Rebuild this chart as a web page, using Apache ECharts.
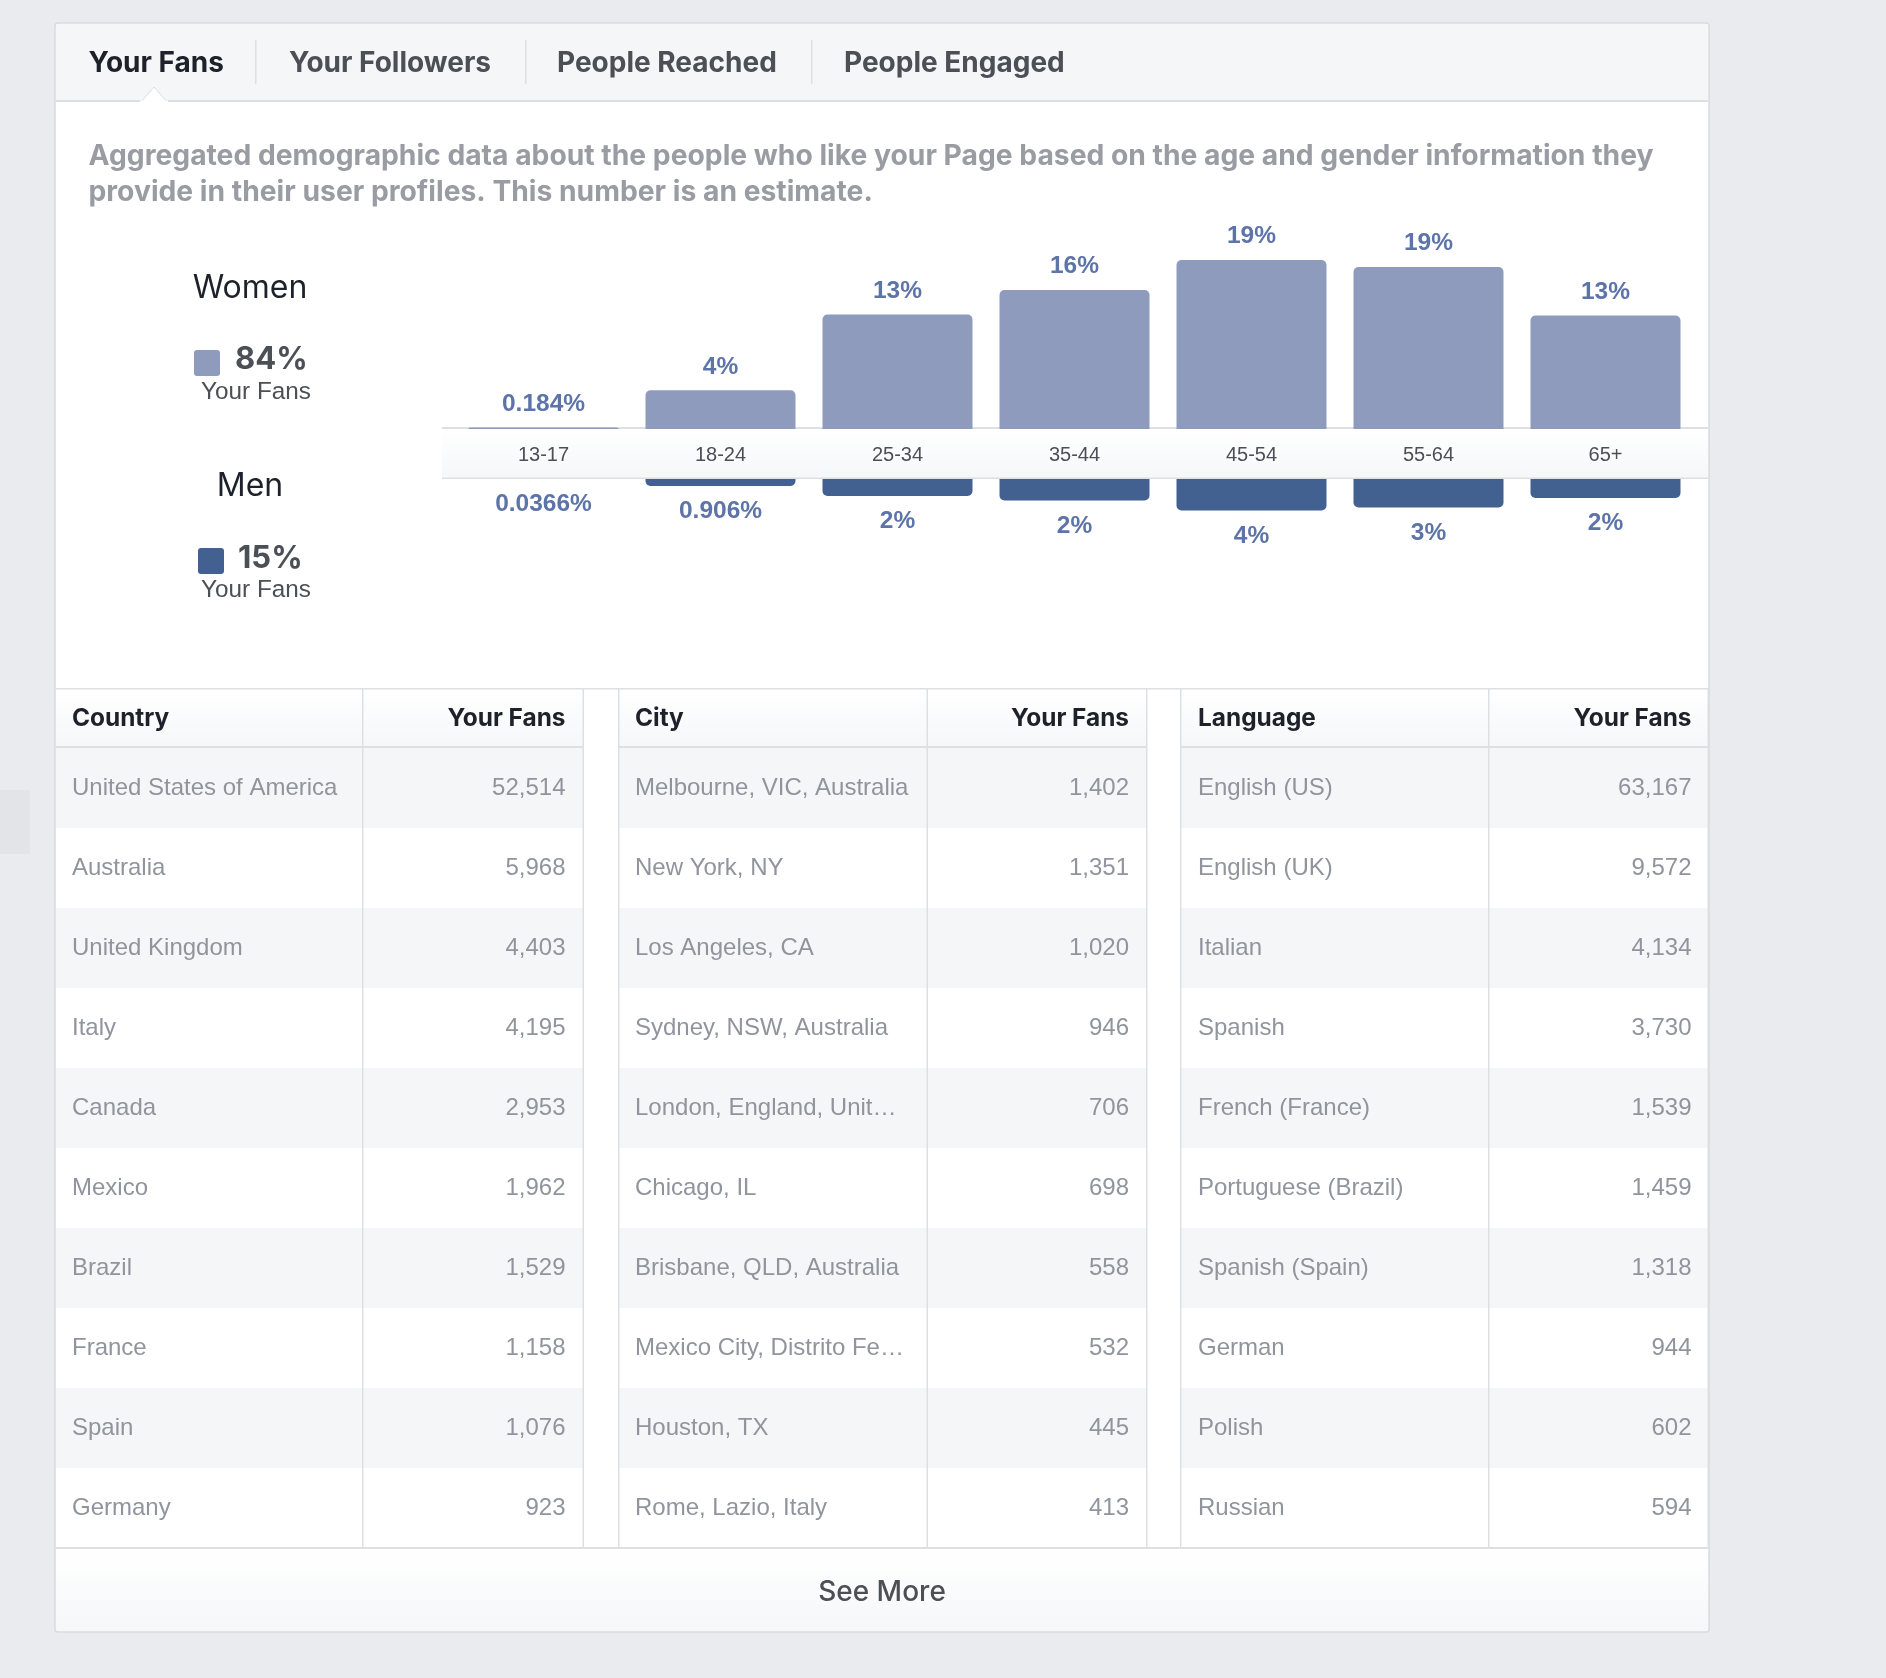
<!DOCTYPE html>
<html><head><meta charset="utf-8">
<style>html,body{margin:0;padding:0;background:#e9ebee}#c{width:1886px;height:1678px}</style>
<script src="https://cdn.jsdelivr.net/npm/echarts@6/dist/echarts.min.js"></script>
</head><body><div id="c"></div>
<script>
const ageGroups = ['13-17','18-24','25-34','35-44','45-54','55-64','65+'];
const womenValues = [0.184,4.4,13,15.8,19.2,18.4,12.9];
const menValues = [0.0366,0.906,2.05,2.56,3.7,3.35,2.27];
const womenLabels = ['0.184%','4%','13%','16%','19%','19%','13%'];
const menLabels = ['0.0366%','0.906%','2%','2%','4%','3%','2%'];
const tabs = ['Your Fans','Your Followers','People Reached','People Engaged'];
const description = ['Aggregated demographic data about the people who like your Page based on the age and gender information they','provide in their user profiles. This number is an estimate.'];
const countries = ['United States of America','Australia','United Kingdom','Italy','Canada','Mexico','Brazil','France','Spain','Germany'];
const countryFans = ['52,514','5,968','4,403','4,195','2,953','1,962','1,529','1,158','1,076','923'];
const cities = ['Melbourne, VIC, Australia','New York, NY','Los Angeles, CA','Sydney, NSW, Australia','London, England, Unit…','Chicago, IL','Brisbane, QLD, Australia','Mexico City, Distrito Fe…','Houston, TX','Rome, Lazio, Italy'];
const cityFans = ['1,402','1,351','1,020','946','706','698','558','532','445','413'];
const languages = ['English (US)','English (UK)','Italian','Spanish','French (France)','Portuguese (Brazil)','Spanish (Spain)','German','Polish','Russian'];
const languageFans = ['63,167','9,572','4,134','3,730','1,539','1,459','1,318','944','602','594'];

const FONT='Inter', HELV='"Liberation Sans"';
const WOMEN='#8e9bbd', MEN='#426191', LABEL='#5d74a9', BORDER='#dddfe2', ALT='#f5f6f8';
const g=[];
const rect=(x,y,w,h,fill,z,extra)=>g.push({type:'rect',silent:true,z:z||1,shape:Object.assign({x,y,width:w,height:h},extra&&extra.shape||{}),style:Object.assign({fill},extra&&extra.style||{})});
const text=(x,y,t,size,weight,fill,align,fam)=>g.push({type:'text',silent:true,z:5,x,y,style:{text:t,font:`${weight} ${size}px ${fam||FONT}`,fill,align:align||'left',verticalAlign:'middle'}});
const grad=(a,b)=>({type:'linear',x:0,y:0,x2:0,y2:1,colorStops:[{offset:0,color:a},{offset:1,color:b}]});

// stray block at the left edge
rect(0,790,30,64,'#e2e4e8');
// panel
rect(55,23,1654,1609,'#ffffff',1,{shape:{r:3},style:{stroke:'#d8dade',lineWidth:1.5}});
rect(56,24,1652,77,ALT,1,{shape:{r:[3,3,0,0]}});
rect(56,100,1652,2,BORDER,2);
g.push({type:'polygon',silent:true,z:3,shape:{points:[[141,102],[154,87],[167,102]]},style:{fill:'#fff',stroke:BORDER,lineWidth:1}});
rect(140,100.5,28,3,'#fff',3);
// tabs
const tabX=[88.5,289,557,844], sepX=[255,525,811];
tabs.forEach((t,i)=>text(tabX[i],64,t,28,700,i===0?'#1d2129':'#4b4f56'));
sepX.forEach(x=>rect(x,40,1.5,44,BORDER,2));
description.forEach((t,i)=>text(88.5,156+i*36,t,28.25,700,'#9a9ca3'));
// legend
text(250,288,'Women',32,400,'#1d2129','center');
rect(194,350,26,26,WOMEN,2,{shape:{r:3}});
text(235,360,'84%',31,700,'#4b4f56');
text(256,392,'Your Fans',24.3,400,'#4b4f56','center',HELV);
text(250,486,'Men',32,400,'#1d2129','center');
rect(198,548,26,26,MEN,2,{shape:{r:3}});
text(238,558.5,'15%',31,700,'#4b4f56');
text(256,590,'Your Fans',24.3,400,'#4b4f56','center',HELV);
// band between the bars
rect(442,427,1266,2,BORDER,1);
rect(442,429,1266,49,grad('#ffffff','#f6f7f9'),3);
rect(442,477.5,1266,1.5,BORDER,4);
// tables
const tables=[
 {x:56,sep:362,end:583,tl:72,tr:565.5,head:'Country',names:countries,vals:countryFans},
 {x:619,sep:926.5,end:1146.5,tl:635,tr:1129,head:'City',names:cities,vals:cityFans},
 {x:1181,sep:1488,end:1708,tl:1198,tr:1691.5,head:'Language',names:languages,vals:languageFans}];
const tableTop=688,headB=747,rowH=80,tableEnd=1548;
rect(56,tableTop,1652,1.5,BORDER,4);
tables.forEach(t=>{
 rect(t.x,tableTop,t.end-t.x,headB-tableTop,grad('#ffffff','#f6f7f9'),2);
 rect(t.x,headB-1,t.end-t.x,2,BORDER,4);
 text(t.tl,719,t.head,24.4,700,'#1d2129');
 text(t.tr,719,'Your Fans',24.4,700,'#1d2129','right');
 t.names.forEach((n,i)=>{
  const y=headB+i*rowH;
  if(i%2===0) rect(t.x,y+1,t.end-t.x,rowH,ALT,2);
  text(t.tl,y+rowH/2+1,n,24,400,'#90949c','left',HELV);
  text(t.tr,y+rowH/2+1,t.vals[i],24,400,'#90949c','right',HELV);
 });
 rect(t.sep,tableTop,1.5,tableEnd-tableTop,BORDER,4);
 rect(t.end-0.5,tableTop,1.5,tableEnd-tableTop,BORDER,4);
 if(t.x>56) rect(t.x-1,tableTop,1.5,tableEnd-tableTop,BORDER,4);
});
// see more
rect(56,1548,1652,83,grad('#ffffff','#f6f7f9'),2);
rect(56,1547,1652,2,BORDER,4);
text(882,1593,'See More',28,500,'#4b4f56','center');

const chart=echarts.init(document.getElementById('c'),null,{renderer:'canvas'});
const barStyle=(color,r)=>({color,borderRadius:r});
const lbl=(pos,arr,d)=>({show:true,position:pos,distance:d,color:LABEL,fontFamily:HELV,fontWeight:700,fontSize:24.5,formatter:p=>arr[p.dataIndex]});
chart.setOption({
 animation:false,
 backgroundColor:'#e9ebee',
 graphic:g,
 grid:[{left:455,top:209,width:1239,height:220},{left:455,top:478,width:1239,height:88}],
 xAxis:[
  {gridIndex:0,type:'category',data:ageGroups,position:'bottom',z:10,axisLine:{show:false},axisTick:{show:false},
   axisLabel:{show:true,margin:16,color:'#4b4f56',fontFamily:HELV,fontSize:20,lineHeight:20}},
  {gridIndex:1,type:'category',data:ageGroups,position:'top',axisLine:{show:false},axisTick:{show:false},axisLabel:{show:false}}
 ],
 yAxis:[
  {gridIndex:0,type:'value',min:0,max:25,show:false},
  {gridIndex:1,type:'value',min:0,max:10,inverse:true,show:false}
 ],
 series:[
  {type:'bar',name:'Women',xAxisIndex:0,yAxisIndex:0,data:womenValues,barWidth:150,z:2,itemStyle:barStyle(WOMEN,[5,5,0,0]),label:lbl('top',womenLabels,11)},
  {type:'bar',name:'Men',xAxisIndex:1,yAxisIndex:1,data:menValues,barWidth:150,z:2,itemStyle:barStyle(MEN,[0,0,5,5]),label:lbl('bottom',menLabels,13)}
 ]
});
</script></body></html>
